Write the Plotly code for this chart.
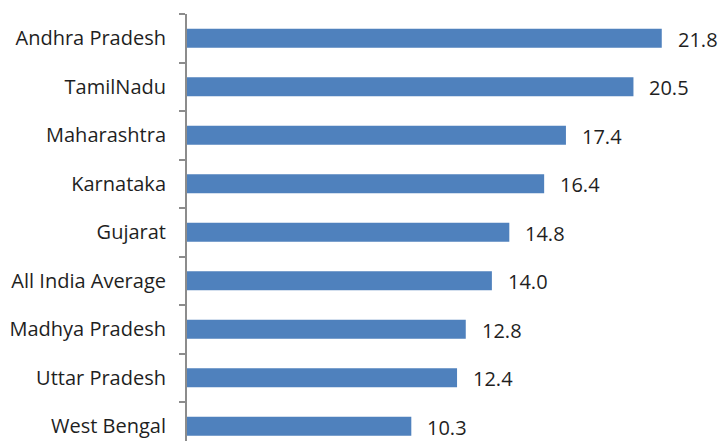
import plotly.graph_objects as go

states = ["Andhra Pradesh", "TamilNadu", "Maharashtra", "Karnataka", "Gujarat",
          "All India Average", "Madhya Pradesh", "Uttar Pradesh", "West Bengal"]
values = [21.8, 20.5, 17.4, 16.4, 14.8, 14.0, 12.8, 12.4, 10.3]

font_family = "Open Sans"
text_color = "#1f1f1f"

fig = go.Figure()
fig.add_trace(go.Bar(
    x=values,
    y=states,
    orientation="h",
    marker=dict(color="#4F81BD", line=dict(width=0)),
    hoverinfo="skip",
))

for s, v in zip(states, values):
    fig.add_annotation(
        x=v, y=s, text=f"{v:.1f}", showarrow=False,
        xanchor="left", yanchor="middle", xshift=14, yshift=-1,
        font=dict(family=font_family, size=20, color=text_color),
    )

fig.update_layout(
    width=721, height=441,
    margin=dict(l=187, r=0, t=14, b=0, pad=0),
    paper_bgcolor="white", plot_bgcolor="white",
    bargap=0.61,
    showlegend=False,
    xaxis=dict(visible=False, range=[0, 24.52], fixedrange=True),
    yaxis=dict(
        type="category",
        range=[8.304, -0.5],
        showgrid=False, zeroline=False,
        showline=True, linecolor="#8c8c8c", linewidth=2,
        ticks="outside", tickson="boundaries", ticklen=6,
        tickcolor="#8c8c8c", tickwidth=1.5,
        ticklabelstandoff=15,
        tickfont=dict(family=font_family, size=20, color=text_color),
    ),
)

fig.write_html("out.html")
